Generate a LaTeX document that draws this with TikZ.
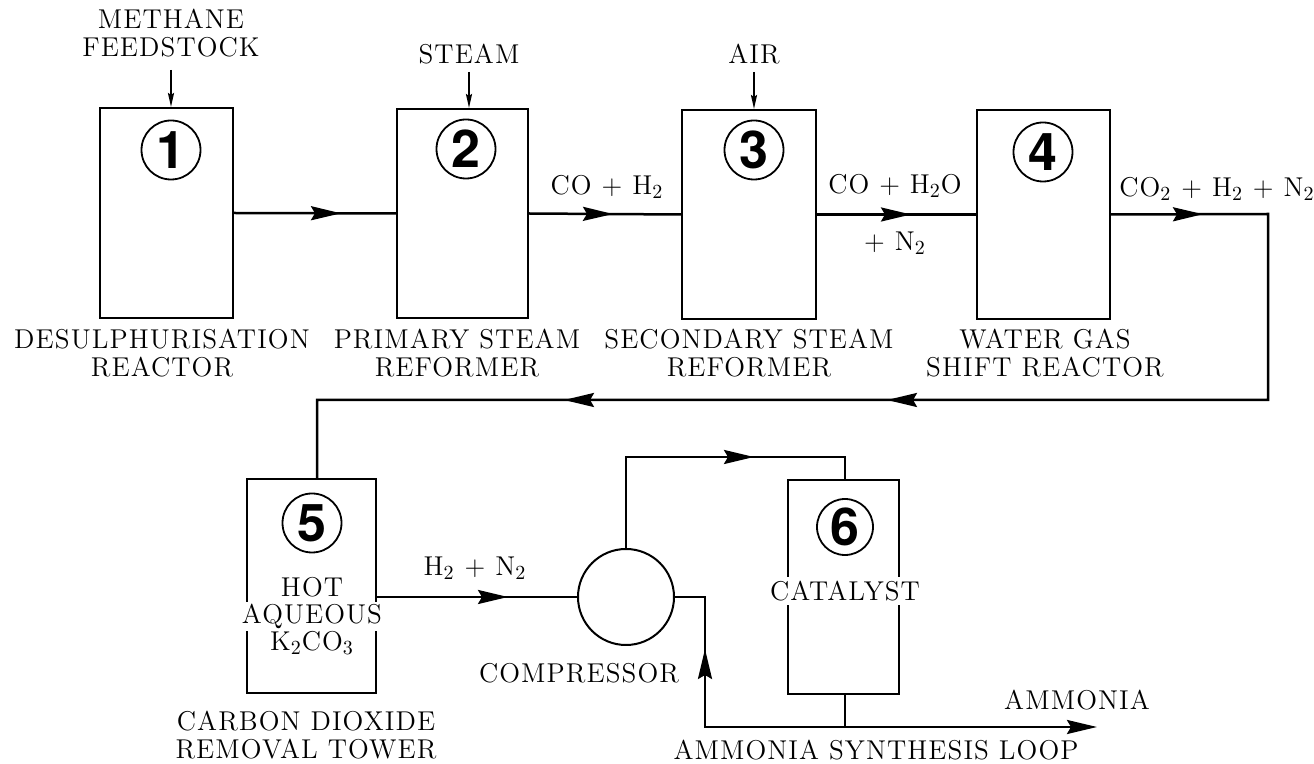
\documentclass[tikz,border=0pt]{standalone}
\usepackage{fontspec}
\setmainfont{Latin Modern Roman}[LetterSpace=4]
\newfontfamily\hv{TeX Gyre Heros}
\usetikzlibrary{arrows.meta,decorations.markings}
\tikzset{
  unitbox/.style={draw, line width=1pt, inner sep=0pt},
  lbl/.style={align=center, inner sep=1pt, font=\fontsize{13.6}{13.6}\selectfont},
  digit/.style={circle, draw, line width=0.9pt, minimum size=29.5pt, inner sep=0pt,
    font=\hv\bfseries\fontsize{26}{26}\selectfont},
  flow/.style={line width=1.25pt},
  feed/.style={line width=1pt, -{Stealth[length=7pt,width=3pt,inset=1pt]}},
  bighead/.tip={Stealth[length=15pt,width=7pt,inset=2pt]},
  mid/.style={postaction={decorate,decoration={markings,
     mark=at position #1 with {\arrow{bighead}}}}},
}
\begin{document}
\begin{tikzpicture}[x=0.5pt,y=-0.5pt]
\useasboundingbox (0,0) rectangle (1314,764);
% units
\node[unitbox, minimum width=66.5pt, minimum height=105pt] (b1) at (166.5,213) {};
\node[unitbox, minimum width=65.5pt, minimum height=104.5pt] (b2) at (462.5,213.5) {};
\node[unitbox, minimum width=67pt, minimum height=104.5pt] (b3) at (749,214.5) {};
\node[unitbox, minimum width=66.5pt, minimum height=104.5pt] (b4) at (1043.5,214.5) {};
\node[unitbox, minimum width=64.5pt, minimum height=107pt] (b5) at (311.5,586) {};
\node[unitbox, minimum width=55.5pt, minimum height=107pt] (b6) at (843.5,587) {};
\node[circle, draw, line width=1pt, minimum size=48pt, inner sep=0pt] (comp) at (626,597) {};
% circled numbers
\node[digit] (c1) at (171,150) {1};
\node[digit] (c2) at (466,149) {2};
\node[digit] (c3) at (754,150) {3};
\node[digit] (c4) at (1043,152) {4};
\node[digit] (c5) at (312,523) {5};
\node[digit, minimum size=28pt] (c6) at (845,527) {6};
% feed labels
\node[lbl] (methane) at (171,33) {METHANE\\FEEDSTOCK};
\node[lbl] (steam) at (469,54) {STEAM};
\node[lbl] (air) at (754,54) {AIR};
\draw[feed] (171,70) -- (b1.north -| methane);
\draw[feed] (469,72) -- (b2.north -| steam);
\draw[feed] (754,72) -- (b3.north -| air);
% unit labels
\node[lbl] (l1) at (162,353) {DESULPHURISATION\\REACTOR};
\node[lbl] (l2) at (457,353) {PRIMARY STEAM\\REFORMER};
\node[lbl] (l3) at (749,353) {SECONDARY STEAM\\REFORMER};
\node[lbl] (l4) at (1045,353) {WATER GAS\\SHIFT REACTOR};
\node[lbl] (l5) at (306,735) {CARBON DIOXIDE\\REMOVAL TOWER};
\node[lbl] (lcomp) at (579,673) {COMPRESSOR};
\node[lbl] (hot) at (312,616) {HOT\\{\fboxsep=1pt\colorbox{white}{AQUEOUS}}\\K$_2$CO$_3$};
\node[lbl, fill=white, inner sep=2pt] (cat) at (845,591) {CATALYST};
% stream labels
\node[lbl] (s12) at (607,187) {CO + H$_2$};
\node[lbl] (s34a) at (895,186) {CO + H$_2$O};
\node[lbl] (s34b) at (895,243) {+ N$_2$};
\node[lbl] (s4) at (1217,189) {CO$_2$ + H$_2$ + N$_2$};
\node[lbl] (s5) at (475,568) {H$_2$ + N$_2$};
\node[lbl] (amm) at (1077,700) {AMMONIA};
\node[lbl] (loop) at (876,750) {AMMONIA SYNTHESIS LOOP};
% connectors
\coordinate (r1) at (1268,214);
\coordinate (r2) at (1268,400);
\coordinate (r3) at (317,400);
\coordinate (k1) at (626,457);
\coordinate (k2) at (845,457);
\coordinate (j) at (845,727);
\coordinate (k3) at (705,727);
\coordinate (k4) at (705,597);
\coordinate (out) at (1097,727);
\draw[flow, mid=53.5pt] (b1.east) -- (b2.west);
\draw[flow, mid=42pt] (b2.east) -- (b3.west);
\draw[flow, mid=47pt] (b3.east) -- (b4.west);
\draw[flow, postaction={decorate,decoration={markings,
   mark=at position 46pt with {\arrow{bighead}},
   mark=at position 362pt with {\arrow{bighead}},
   mark=at position 523.5pt with {\arrow{bighead}}}}]
   (b4.east) -- (r1) -- (r2) -- (r3) -- (b5.north -| r3);
\draw[flow, mid=65.5pt] (b5.east |- comp.west) -- (comp.west);
\draw[flow, mid=109.5pt] (comp.north) -- (k1) -- (k2) -- (b6.north -| k2);
\draw[flow, mid=125pt] (b6.south -| j) -- (j) -- (k3) -- (k4) -- (comp.east);
\draw[flow, -{bighead}] (j) -- (out);
\end{tikzpicture}
\end{document}
